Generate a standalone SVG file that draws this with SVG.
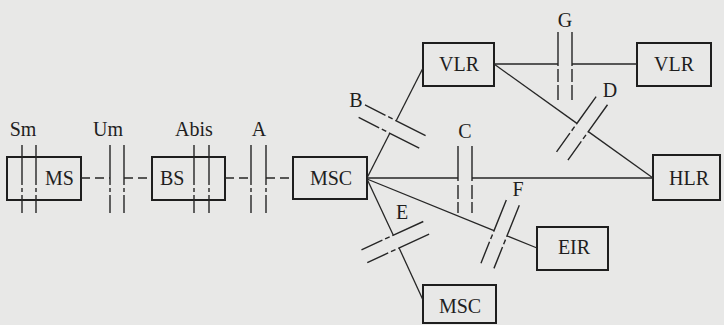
<svg xmlns="http://www.w3.org/2000/svg" xmlns:xlink="http://www.w3.org/1999/xlink" width="724" height="325" viewBox="0 0 724 325">
<style>
.box{fill:none;stroke:#1e1e1e;stroke-width:2}
text{font-family:'Liberation Serif','Times New Roman','DejaVu Serif',serif;font-size:20px;fill:#1e1e1e}
.c{text-anchor:middle}
.ln{stroke:#262626;stroke-width:1.3;fill:none}
.dl{stroke:#262626;stroke-width:1.3;fill:none;stroke-dasharray:9 5}
.vb{stroke:#262626;stroke-width:1.4;fill:none;stroke-dasharray:40 3 4 3 40}
.cb{stroke:#262626;stroke-width:1.4;fill:none;stroke-dasharray:35 4 14 3 20}
.gb{stroke:#262626;stroke-width:1.4;fill:none;stroke-dasharray:34 3 13 3 20}
.db{stroke:#262626;stroke-width:1.4;fill:none;stroke-dasharray:34 3 5 3 23}
</style>
<defs>
<g id="ipair" class="db">
<line x1="-7" y1="33" x2="-7" y2="-35"/>
<line x1="7" y1="33" x2="7" y2="-35"/>
</g>
</defs>
<rect x="0" y="0" width="724" height="325" fill="#e8e8e7"/>

<g font-family="Liberation Serif, serif" font-size="20">
<g id="node-ms"><rect class="box" x="7" y="157" width="74" height="43"/><text x="45" y="185">MS</text></g>
<g id="node-bs"><rect class="box" x="152" y="157" width="73" height="43"/><text x="160" y="185">BS</text></g>
<g id="node-msc"><rect class="box" x="293" y="157" width="74" height="42"/><text class="c" x="331" y="185">MSC</text></g>
<g id="node-vlr1"><rect class="box" x="423" y="43" width="71" height="43"/><text class="c" x="459" y="71">VLR</text></g>
<g id="node-vlr2"><rect class="box" x="637" y="43" width="74" height="43"/><text class="c" x="674" y="71">VLR</text></g>
<g id="node-hlr"><rect class="box" x="653" y="155" width="67" height="45"/><text class="c" x="689" y="185">HLR</text></g>
<g id="node-eir"><rect class="box" x="537" y="227" width="71" height="43"/><text class="c" x="574" y="254">EIR</text></g>
<g id="node-msc2"><rect class="box" x="423" y="285" width="73" height="38"/><text class="c" x="460" y="313">MSC</text></g>
</g>

<g id="connectors">
<line class="dl" x1="81" y1="178" x2="110" y2="178"/>
<line class="dl" x1="124" y1="178" x2="152" y2="178"/>
<line class="dl" x1="225" y1="178" x2="251" y2="178"/>
<line class="dl" x1="266" y1="178" x2="293" y2="178"/>
<line class="ln" x1="367" y1="178" x2="458" y2="178"/>
<line class="ln" x1="472" y1="178" x2="653" y2="178"/>
<line class="ln" x1="494" y1="64" x2="558" y2="64"/>
<line class="ln" x1="572" y1="64" x2="637" y2="64"/>
<line class="ln" x1="423" y1="68" x2="396.2" y2="120.8"/>
<line class="ln" x1="389.8" y1="133.2" x2="367" y2="178"/>
<line class="ln" x1="494" y1="64" x2="576.9" y2="123.4"/>
<line class="ln" x1="588.3" y1="131.6" x2="653" y2="178"/>
<line class="ln" x1="367" y1="179" x2="393.3" y2="235.2"/>
<line class="ln" x1="399.1" y1="248" x2="423" y2="300"/>
<line class="ln" x1="367" y1="179" x2="494" y2="230.7"/>
<line class="ln" x1="507" y1="235.9" x2="537" y2="248"/>
</g>

<g id="interfaces">
<line class="vb" x1="22" y1="145" x2="22" y2="213"/>
<line class="vb" x1="36" y1="145" x2="36" y2="213"/>
<line class="vb" x1="110" y1="145" x2="110" y2="213"/>
<line class="vb" x1="124" y1="145" x2="124" y2="213"/>
<line class="vb" x1="194" y1="145" x2="194" y2="213"/>
<line class="vb" x1="209" y1="145" x2="209" y2="213"/>
<line class="vb" x1="251" y1="145" x2="251" y2="213"/>
<line class="vb" x1="266" y1="145" x2="266" y2="213"/>
<line class="cb" x1="458" y1="146" x2="458" y2="213"/>
<line class="cb" x1="472" y1="146" x2="472" y2="213"/>
<line class="gb" x1="558" y1="32" x2="558" y2="100"/>
<line class="gb" x1="572" y1="32" x2="572" y2="100"/>
<use xlink:href="#ipair" transform="translate(393,127) rotate(-63)"/>
<use xlink:href="#ipair" transform="translate(582.6,127.5) rotate(-144.4)"/>
<use xlink:href="#ipair" transform="translate(396.2,241.6) rotate(-114.6)"/>
<use xlink:href="#ipair" transform="translate(500.5,233.3) rotate(-158.1)"/>
</g>

<g id="labels" font-family="Liberation Serif, serif" font-size="20">
<text class="c" x="23" y="136">Sm</text>
<text class="c" x="108" y="136">Um</text>
<text class="c" x="194" y="136">Abis</text>
<text class="c" x="259" y="136">A</text>
<text class="c" x="356" y="107">B</text>
<text class="c" x="465" y="138">C</text>
<text class="c" x="565" y="27">G</text>
<text class="c" x="610" y="97">D</text>
<text class="c" x="402" y="219">E</text>
<text class="c" x="518" y="196">F</text>
</g>
</svg>
